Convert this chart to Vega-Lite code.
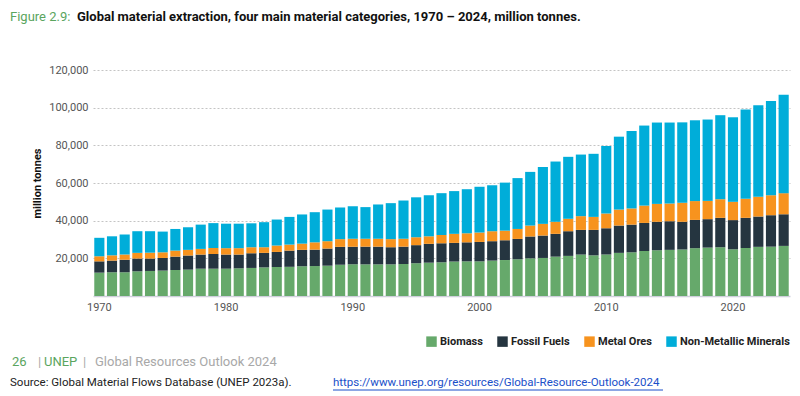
{
  "$schema": "https://vega.github.io/schema/vega-lite/v6.json",
  "width": 697,
  "height": 226,
  "autosize": {"type": "none"},
  "padding": {"left": 93, "top": 70, "right": 10, "bottom": 100},
  "background": "white",
  "config": {"view": {"stroke": null}, "font": "Roboto"},
  "datasets": {
    "extraction": [
      {"year": 1970, "Biomass": 12400, "Fossil Fuels": 6000, "Metal Ores": 2700, "Non-Metallic Minerals": 9800},
      {"year": 1971, "Biomass": 12600, "Fossil Fuels": 6200, "Metal Ores": 2800, "Non-Metallic Minerals": 10100},
      {"year": 1972, "Biomass": 12600, "Fossil Fuels": 6700, "Metal Ores": 2700, "Non-Metallic Minerals": 10600},
      {"year": 1973, "Biomass": 13100, "Fossil Fuels": 6800, "Metal Ores": 3000, "Non-Metallic Minerals": 11500},
      {"year": 1974, "Biomass": 13300, "Fossil Fuels": 6600, "Metal Ores": 3100, "Non-Metallic Minerals": 11400},
      {"year": 1975, "Biomass": 13500, "Fossil Fuels": 6700, "Metal Ores": 3000, "Non-Metallic Minerals": 11000},
      {"year": 1976, "Biomass": 13800, "Fossil Fuels": 7100, "Metal Ores": 3200, "Non-Metallic Minerals": 11500},
      {"year": 1977, "Biomass": 14000, "Fossil Fuels": 7500, "Metal Ores": 3000, "Non-Metallic Minerals": 12000},
      {"year": 1978, "Biomass": 14500, "Fossil Fuels": 7500, "Metal Ores": 3000, "Non-Metallic Minerals": 12900},
      {"year": 1979, "Biomass": 14500, "Fossil Fuels": 7800, "Metal Ores": 3200, "Non-Metallic Minerals": 13200},
      {"year": 1980, "Biomass": 14500, "Fossil Fuels": 7500, "Metal Ores": 3400, "Non-Metallic Minerals": 13000},
      {"year": 1981, "Biomass": 14700, "Fossil Fuels": 7300, "Metal Ores": 3400, "Non-Metallic Minerals": 13000},
      {"year": 1982, "Biomass": 14900, "Fossil Fuels": 7800, "Metal Ores": 3200, "Non-Metallic Minerals": 12700},
      {"year": 1983, "Biomass": 15200, "Fossil Fuels": 7700, "Metal Ores": 3000, "Non-Metallic Minerals": 13300},
      {"year": 1984, "Biomass": 15400, "Fossil Fuels": 8000, "Metal Ores": 3400, "Non-Metallic Minerals": 13800},
      {"year": 1985, "Biomass": 15500, "Fossil Fuels": 8600, "Metal Ores": 3200, "Non-Metallic Minerals": 14700},
      {"year": 1986, "Biomass": 15800, "Fossil Fuels": 8700, "Metal Ores": 3300, "Non-Metallic Minerals": 15500},
      {"year": 1987, "Biomass": 15900, "Fossil Fuels": 8700, "Metal Ores": 3900, "Non-Metallic Minerals": 16000},
      {"year": 1988, "Biomass": 16100, "Fossil Fuels": 9100, "Metal Ores": 3900, "Non-Metallic Minerals": 16800},
      {"year": 1989, "Biomass": 16600, "Fossil Fuels": 9500, "Metal Ores": 4100, "Non-Metallic Minerals": 16800},
      {"year": 1990, "Biomass": 16800, "Fossil Fuels": 9400, "Metal Ores": 4200, "Non-Metallic Minerals": 17200},
      {"year": 1991, "Biomass": 16800, "Fossil Fuels": 9400, "Metal Ores": 4200, "Non-Metallic Minerals": 16800},
      {"year": 1992, "Biomass": 16800, "Fossil Fuels": 9400, "Metal Ores": 4200, "Non-Metallic Minerals": 18200},
      {"year": 1993, "Biomass": 16800, "Fossil Fuels": 9100, "Metal Ores": 4300, "Non-Metallic Minerals": 19100},
      {"year": 1994, "Biomass": 17000, "Fossil Fuels": 9200, "Metal Ores": 4200, "Non-Metallic Minerals": 20300},
      {"year": 1995, "Biomass": 17400, "Fossil Fuels": 9600, "Metal Ores": 4200, "Non-Metallic Minerals": 21200},
      {"year": 1996, "Biomass": 17700, "Fossil Fuels": 10000, "Metal Ores": 4000, "Non-Metallic Minerals": 21800},
      {"year": 1997, "Biomass": 17900, "Fossil Fuels": 10100, "Metal Ores": 4400, "Non-Metallic Minerals": 22200},
      {"year": 1998, "Biomass": 18300, "Fossil Fuels": 9900, "Metal Ores": 4800, "Non-Metallic Minerals": 22700},
      {"year": 1999, "Biomass": 18400, "Fossil Fuels": 10100, "Metal Ores": 4800, "Non-Metallic Minerals": 23400},
      {"year": 2000, "Biomass": 18400, "Fossil Fuels": 10300, "Metal Ores": 5000, "Non-Metallic Minerals": 24300},
      {"year": 2001, "Biomass": 18800, "Fossil Fuels": 10300, "Metal Ores": 5300, "Non-Metallic Minerals": 24400},
      {"year": 2002, "Biomass": 19100, "Fossil Fuels": 10500, "Metal Ores": 5100, "Non-Metallic Minerals": 25500},
      {"year": 2003, "Biomass": 19500, "Fossil Fuels": 10800, "Metal Ores": 5300, "Non-Metallic Minerals": 27000},
      {"year": 2004, "Biomass": 20000, "Fossil Fuels": 11600, "Metal Ores": 5800, "Non-Metallic Minerals": 28500},
      {"year": 2005, "Biomass": 20200, "Fossil Fuels": 11900, "Metal Ores": 6200, "Non-Metallic Minerals": 30200},
      {"year": 2006, "Biomass": 20900, "Fossil Fuels": 12100, "Metal Ores": 6400, "Non-Metallic Minerals": 32000},
      {"year": 2007, "Biomass": 21300, "Fossil Fuels": 13100, "Metal Ores": 6600, "Non-Metallic Minerals": 32900},
      {"year": 2008, "Biomass": 22000, "Fossil Fuels": 13100, "Metal Ores": 7300, "Non-Metallic Minerals": 32700},
      {"year": 2009, "Biomass": 21600, "Fossil Fuels": 13500, "Metal Ores": 6900, "Non-Metallic Minerals": 33500},
      {"year": 2010, "Biomass": 22000, "Fossil Fuels": 14000, "Metal Ores": 7800, "Non-Metallic Minerals": 35800},
      {"year": 2011, "Biomass": 22900, "Fossil Fuels": 14500, "Metal Ores": 8500, "Non-Metallic Minerals": 38700},
      {"year": 2012, "Biomass": 23200, "Fossil Fuels": 14700, "Metal Ores": 8600, "Non-Metallic Minerals": 41100},
      {"year": 2013, "Biomass": 23900, "Fossil Fuels": 14900, "Metal Ores": 9200, "Non-Metallic Minerals": 42500},
      {"year": 2014, "Biomass": 24300, "Fossil Fuels": 15100, "Metal Ores": 9500, "Non-Metallic Minerals": 43200},
      {"year": 2015, "Biomass": 24500, "Fossil Fuels": 15200, "Metal Ores": 9400, "Non-Metallic Minerals": 43000},
      {"year": 2016, "Biomass": 24700, "Fossil Fuels": 14700, "Metal Ores": 10100, "Non-Metallic Minerals": 42700},
      {"year": 2017, "Biomass": 25400, "Fossil Fuels": 15000, "Metal Ores": 10000, "Non-Metallic Minerals": 42900},
      {"year": 2018, "Biomass": 25700, "Fossil Fuels": 15100, "Metal Ores": 9700, "Non-Metallic Minerals": 43200},
      {"year": 2019, "Biomass": 25900, "Fossil Fuels": 15600, "Metal Ores": 9900, "Non-Metallic Minerals": 44600},
      {"year": 2020, "Biomass": 24800, "Fossil Fuels": 15500, "Metal Ores": 9700, "Non-Metallic Minerals": 44900},
      {"year": 2021, "Biomass": 25500, "Fossil Fuels": 16000, "Metal Ores": 10100, "Non-Metallic Minerals": 47400},
      {"year": 2022, "Biomass": 26100, "Fossil Fuels": 16100, "Metal Ores": 10500, "Non-Metallic Minerals": 48600},
      {"year": 2023, "Biomass": 26200, "Fossil Fuels": 16700, "Metal Ores": 10600, "Non-Metallic Minerals": 50100},
      {"year": 2024, "Biomass": 26600, "Fossil Fuels": 16800, "Metal Ores": 11200, "Non-Metallic Minerals": 52200}
    ],
    "note": [{}]
  },
  "layer": [
    {
      "data": {"name": "extraction"},
      "transform": [
        {"fold": ["Biomass", "Fossil Fuels", "Metal Ores", "Non-Metallic Minerals"], "as": ["category", "value"]}
      ],
      "mark": {"type": "bar"},
      "encoding": {
        "x": {
          "field": "year", "type": "ordinal",
          "scale": {"paddingInner": 0.2, "paddingOuter": 0.1},
          "axis": {
            "title": null,
            "values": [1970, 1980, 1990, 2000, 2010, 2020],
            "labelAngle": 0,
            "ticks": false,
            "labelFont": "Roboto",
            "labelFontSize": 11,
            "labelColor": "#555555",
            "labelPadding": 5,
            "domainColor": "#cfcfdc",
            "domainWidth": 1.5
          }
        },
        "y": {
          "field": "value", "type": "quantitative", "aggregate": "sum",
          "stack": "zero",
          "scale": {"domain": [0, 120000], "nice": false},
          "axis": {
            "title": "million tonnes",
            "titleFont": "Roboto",
            "titleFontWeight": "bold",
            "titleFontSize": 11,
            "titleColor": "#111111",
            "titlePadding": 6,
            "values": [20000, 40000, 60000, 80000, 100000, 120000],
            "format": ",d",
            "labelFont": "Roboto",
            "labelFontSize": 11,
            "labelColor": "#555555",
            "labelPadding": 5,
            "ticks": false,
            "domain": false,
            "grid": true,
            "gridColor": "#c4c4c4",
            "gridDash": [2, 2],
            "gridWidth": 1
          }
        },
        "order": {"field": "category", "sort": "ascending"},
        "color": {
          "field": "category", "type": "nominal",
          "scale": {
            "domain": ["Biomass", "Fossil Fuels", "Metal Ores", "Non-Metallic Minerals"],
            "range": ["#66a96b", "#253540", "#f7931e", "#00add9"]
          },
          "legend": {
            "title": null,
            "orient": "none",
            "direction": "horizontal",
            "legendX": 333,
            "legendY": 266,
            "symbolType": "square",
            "symbolSize": 110,
            "symbolStrokeWidth": 0,
            "labelFont": "Roboto",
            "labelFontWeight": "bold",
            "labelFontSize": 11,
            "labelColor": "#222222",
            "labelOffset": 3,
            "columnPadding": 14
          }
        }
      }
    },
    {
      "data": {"name": "note"},
      "mark": {"type": "text", "text": "Figure 2.9:", "font": "Roboto", "fontSize": 13, "color": "#5aa55e", "align": "left", "baseline": "middle"},
      "encoding": {"x": {"value": -83}, "y": {"value": -53}}
    },
    {
      "data": {"name": "note"},
      "mark": {"type": "text", "text": "Global material extraction, four main material categories, 1970 – 2024, million tonnes.", "font": "Roboto", "fontWeight": "bold", "fontSize": 13, "color": "#111111", "align": "left", "baseline": "middle"},
      "encoding": {"x": {"value": -16}, "y": {"value": -53}}
    },
    {
      "data": {"name": "note"},
      "mark": {"type": "text", "text": "26", "font": "Roboto", "fontSize": 13, "color": "#5aa55e", "align": "left", "baseline": "middle"},
      "encoding": {"x": {"value": -81}, "y": {"value": 292}}
    },
    {
      "data": {"name": "note"},
      "mark": {"type": "text", "text": "|", "font": "Roboto", "fontSize": 13, "color": "#a8a8a8", "align": "left", "baseline": "middle"},
      "encoding": {"x": {"value": -55}, "y": {"value": 292}}
    },
    {
      "data": {"name": "note"},
      "mark": {"type": "text", "text": "UNEP", "font": "Roboto", "fontSize": 13, "color": "#5aa55e", "align": "left", "baseline": "middle"},
      "encoding": {"x": {"value": -49}, "y": {"value": 292}}
    },
    {
      "data": {"name": "note"},
      "mark": {"type": "text", "text": "|", "font": "Roboto", "fontSize": 13, "color": "#a8a8a8", "align": "left", "baseline": "middle"},
      "encoding": {"x": {"value": -10}, "y": {"value": 292}}
    },
    {
      "data": {"name": "note"},
      "mark": {"type": "text", "text": "Global Resources Outlook 2024", "font": "Roboto", "fontSize": 13, "color": "#a8a8a8", "align": "left", "baseline": "middle"},
      "encoding": {"x": {"value": 2}, "y": {"value": 292}}
    },
    {
      "data": {"name": "note"},
      "mark": {"type": "text", "text": "Source: Global Material Flows Database (UNEP 2023a).", "font": "Roboto", "fontSize": 11.5, "color": "#222222", "align": "left", "baseline": "middle"},
      "encoding": {"x": {"value": -83}, "y": {"value": 313}}
    },
    {
      "data": {"name": "note"},
      "mark": {"type": "text", "text": "https://www.unep.org/resources/Global-Resource-Outlook-2024", "font": "Roboto", "fontSize": 11.5, "color": "#1a4fc9", "align": "left", "baseline": "middle"},
      "encoding": {"x": {"value": 240}, "y": {"value": 313}}
    },
    {
      "data": {"name": "note"},
      "mark": {"type": "rule", "color": "#1a4fc9", "strokeWidth": 1},
      "encoding": {"x": {"value": 240}, "x2": {"value": 570}, "y": {"value": 320}}
    }
  ]
}
